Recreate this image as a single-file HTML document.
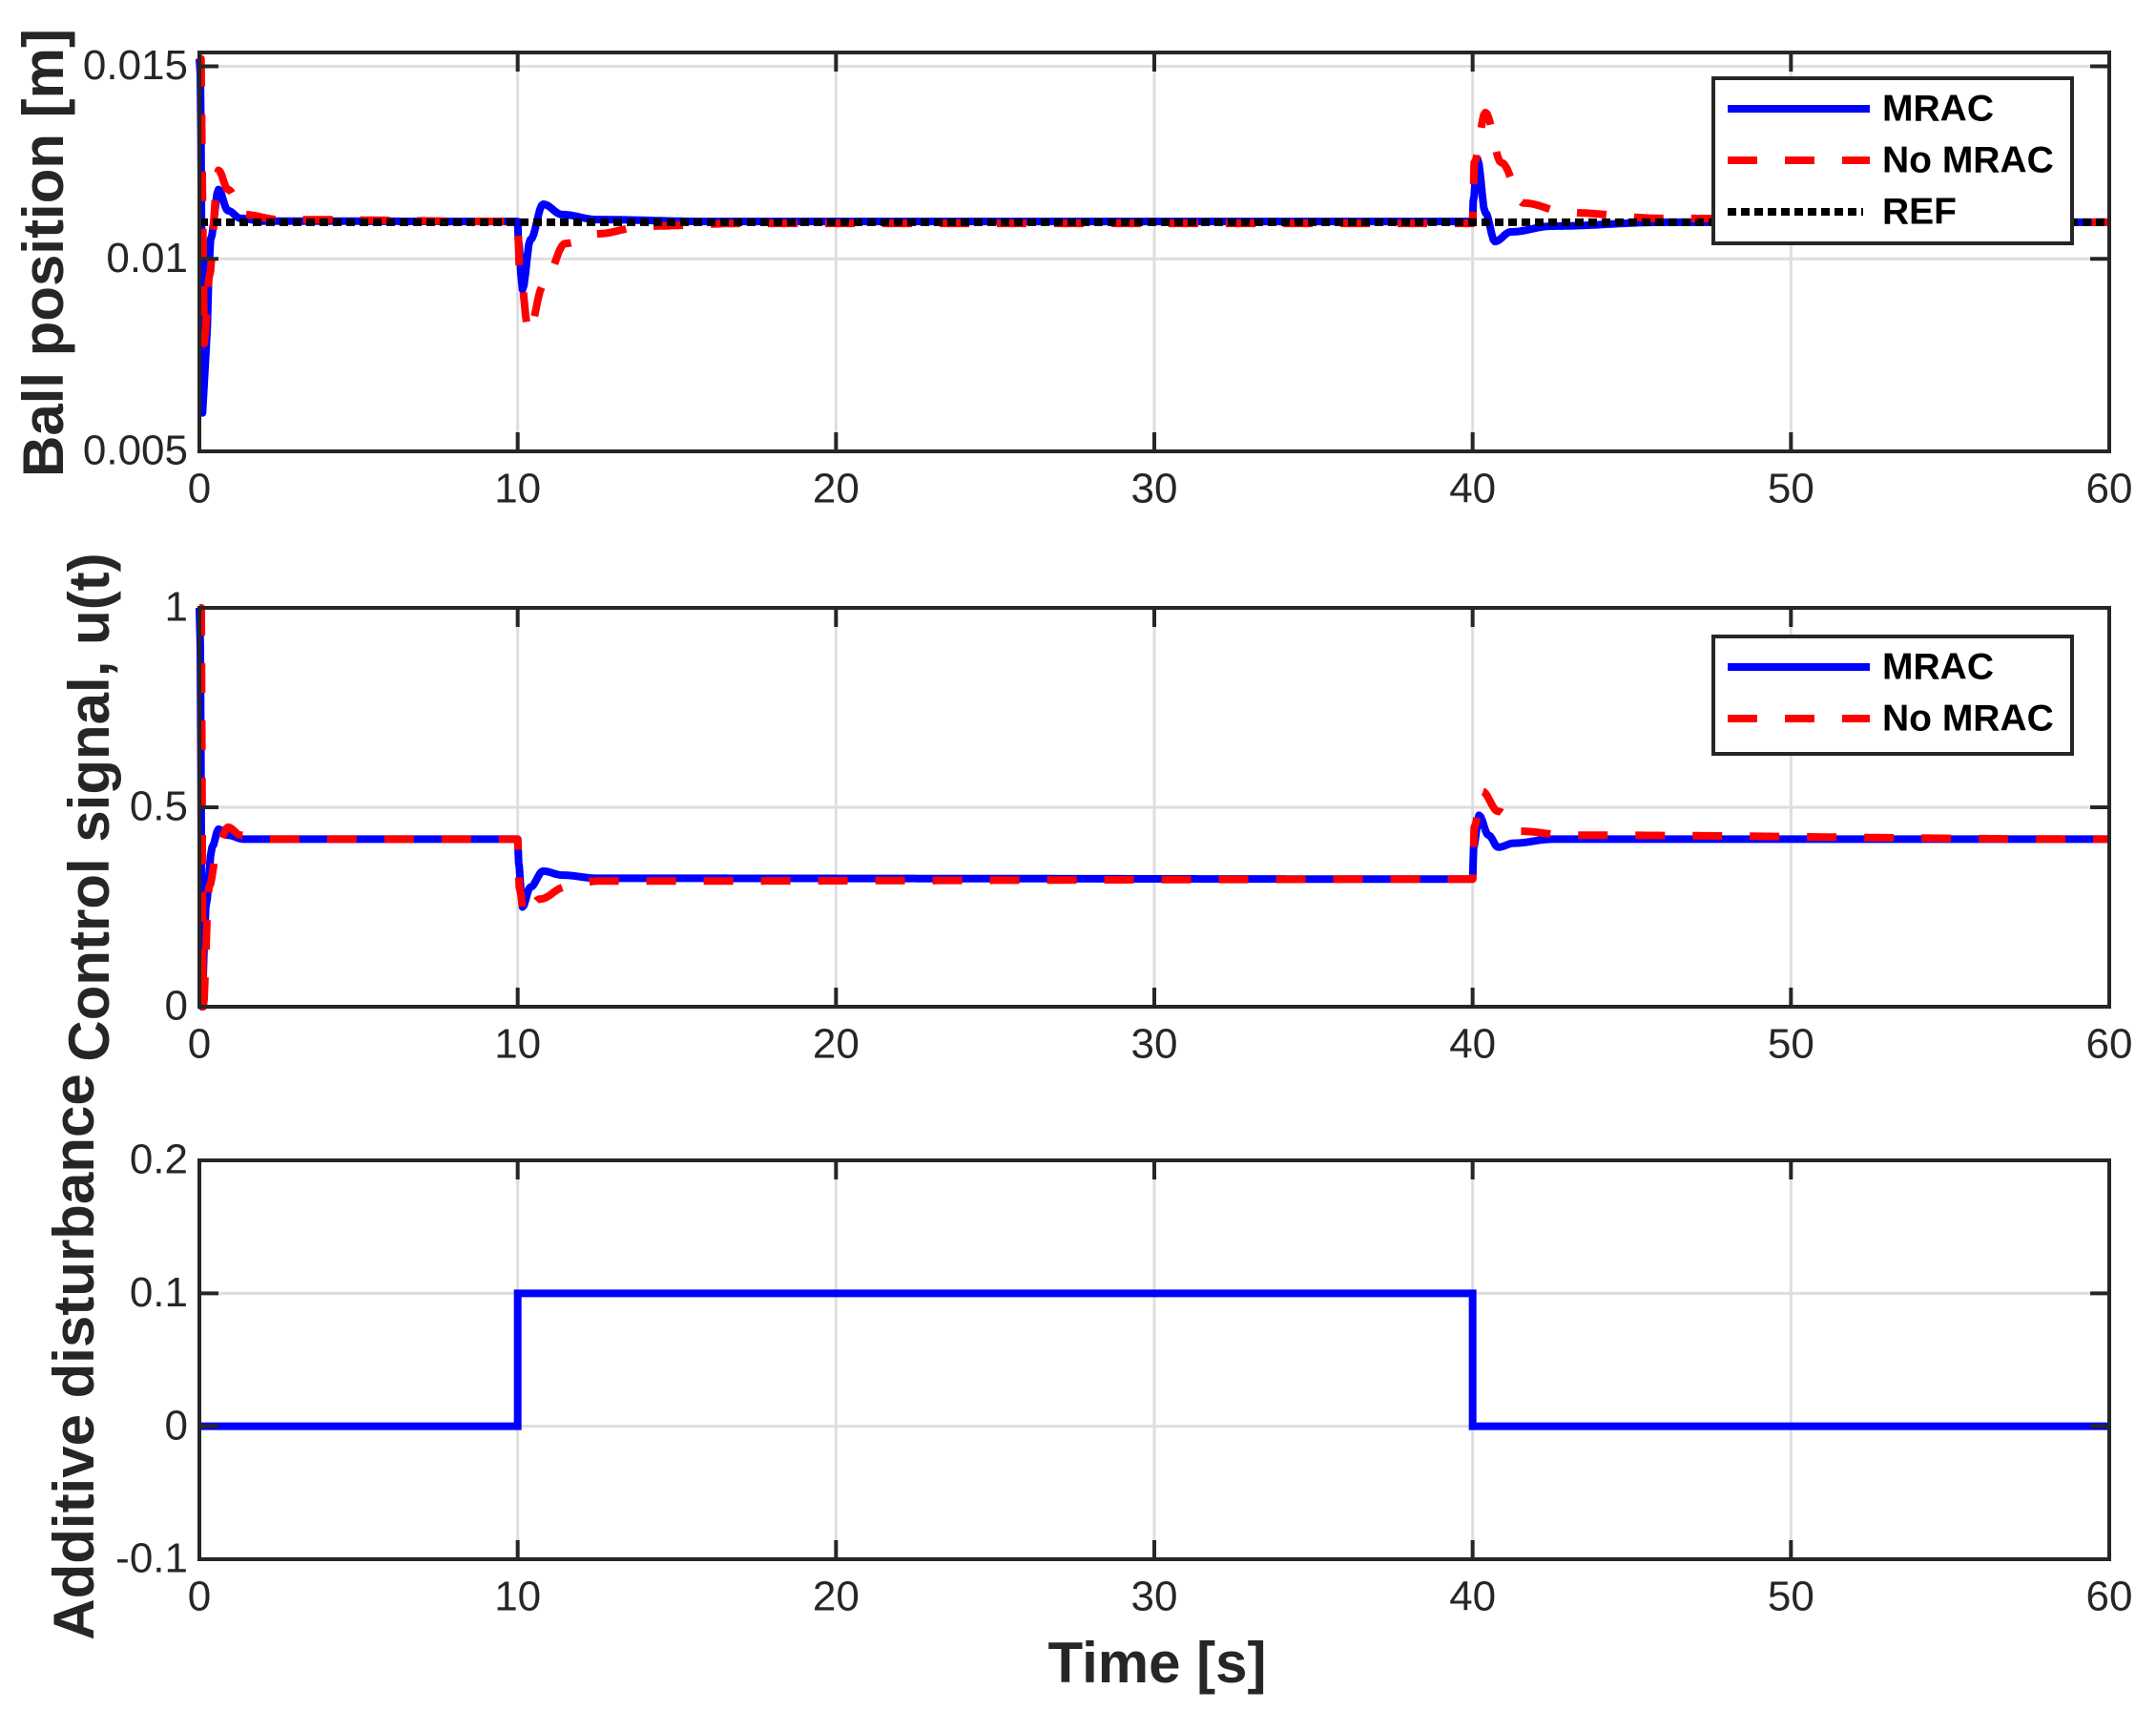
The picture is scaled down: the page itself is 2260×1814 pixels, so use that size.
<!DOCTYPE html>
<html><head><meta charset="utf-8"><style>
html,body{margin:0;padding:0;background:#fff;}
svg{display:block;}
text{font-family:"Liberation Sans",Arial,sans-serif;fill:#262626;}
</style></head><body>
<svg id="s" width="2260" height="1814" viewBox="0 0 2260 1814" xmlns="http://www.w3.org/2000/svg">
<g id="g"></g>
<text x="1213" y="1747" font-size="60" font-weight="bold" text-anchor="middle" dominant-baseline="middle">Time [s]</text>
<text transform="translate(50,265) rotate(-90)" font-size="60" font-weight="bold" text-anchor="middle" dominant-baseline="middle">Ball position [m]</text>
<text transform="translate(98,846) rotate(-90)" font-size="60" font-weight="bold" text-anchor="middle" dominant-baseline="middle">Control signal, u(t)</text>
<text transform="translate(82,1422) rotate(-90)" font-size="60" font-weight="bold" text-anchor="middle" dominant-baseline="middle">Additive disturbance</text>
</svg>
<script>
var NS="http://www.w3.org/2000/svg",G=document.getElementById('g');
function el(t,a,txt){var e=document.createElementNS(NS,t);for(var k in a)e.setAttribute(k,a[k]);if(txt!==undefined)e.textContent=txt;G.appendChild(e);return e;}
var X0=209,X1=2211;function X(t){return X0+(X1-X0)*t/60;}
function axes(top,bot,ymin,ymax,yt){
 function Y(v){return bot-(bot-top)*(v-ymin)/(ymax-ymin);}
 for(var i=1;i<6;i++)el('line',{x1:X(i*10),x2:X(i*10),y1:top,y2:bot,stroke:'#dedede','stroke-width':3});
 yt.forEach(function(v){var y=Y(v);if(y>top+2&&y<bot-2)el('line',{x1:X0,x2:X1,y1:y,y2:y,stroke:'#dedede','stroke-width':3});});
 return Y;}
function frame(top,bot,Y,yt,labs){
 el('rect',{x:X0,y:top,width:X1-X0,height:bot-top,fill:'none',stroke:'#262626','stroke-width':4});
 for(var i=0;i<=6;i++){var x=X(i*10);
  el('line',{x1:x,x2:x,y1:bot,y2:bot-20,stroke:'#262626','stroke-width':4});
  el('line',{x1:x,x2:x,y1:top,y2:top+20,stroke:'#262626','stroke-width':4});
  el('text',{x:x,y:bot+42,'font-size':44,'text-anchor':'middle','dominant-baseline':'middle'},String(i*10));}
 yt.forEach(function(v,j){var y=Y(v);
  el('line',{x1:X0,x2:X0+20,y1:y,y2:y,stroke:'#262626','stroke-width':4});
  el('line',{x1:X1,x2:X1-20,y1:y,y2:y,stroke:'#262626','stroke-width':4});
  el('text',{x:197,y:y+2,'font-size':44,'text-anchor':'end','dominant-baseline':'middle'},labs[j]);});}
function interp(k,t){for(var i=1;i<k.length;i++){if(t<=k[i][0]){var a=k[i-1],b=k[i];var f=(t-a[0])/(b[0]-a[0]);f=(1-Math.cos(Math.PI*f))/2;return a[1]+(b[1]-a[1])*f;}}return k[k.length-1][1];}
function path(k,Y,attrs){var d='';var ts=[];for(var t=0;t<=60;t+=0.05)ts.push(t);k.forEach(function(p){ts.push(p[0]);});ts.sort(function(a,b){return a-b;});
 ts.forEach(function(t,i){d+=(i?'L':'M')+X(t).toFixed(1)+','+Y(interp(k,t)).toFixed(1);});
 attrs.d=d;attrs.fill='none';attrs['stroke-linejoin']='round';el('path',attrs);}
var yt1=[0.005,0.01,0.015],Y1=axes(55,473,0.005,0.01536,yt1);
var R=0.01095;
var b1=[[0,0.0152],[0.03,0.0148],[0.1,0.006],[0.2,0.0075],[0.35,0.0105],[0.6,0.0118],[0.9,0.01125],[1.3,0.01105],[2,0.01098],[10,0.01097],[10.02,0.0105],[10.15,0.0092],[10.4,0.0105],[10.8,0.01142],[11.4,0.01115],[12.5,0.01102],[16,0.01097],[40,0.01097],[40.02,0.0115],[40.15,0.0126],[40.4,0.0112],[40.7,0.01045],[41.2,0.0107],[42.5,0.01085],[46,0.01095],[60,0.01095]];
var r1=[[0,0.0152],[0.05,0.0152],[0.15,0.0078],[0.3,0.0095],[0.6,0.0123],[0.9,0.0118],[1.4,0.01115],[2.5,0.01102],[10,0.01097],[10.05,0.0098],[10.35,0.0081],[10.8,0.0093],[11.5,0.0104],[12.5,0.01065],[14,0.01085],[17,0.01092],[40,0.01092],[40.05,0.0125],[40.4,0.0138],[40.9,0.0125],[41.6,0.01145],[43,0.0112],[46,0.01105],[60,0.01095]];
path(b1,Y1,{stroke:'#0000ff','stroke-width':8});
path(r1,Y1,{stroke:'#ff0000','stroke-width':8,'stroke-dasharray':'31 29'});
el('line',{x1:X0,x2:X1,y1:Y1(R),y2:Y1(R),stroke:'#000','stroke-width':8,'stroke-dasharray':'9 5'});
frame(55,473,Y1,yt1,['0.005','0.01','0.015']);
var yt2=[0,0.5,1],Y2=axes(637,1055,0,1,yt2);
var b2=[[0,1],[0.03,0.9],[0.08,0.0],[0.2,0.25],[0.4,0.4],[0.6,0.445],[0.9,0.43],[1.4,0.42],[10,0.42],[10.03,0.36],[10.15,0.25],[10.4,0.3],[10.8,0.34],[11.4,0.33],[12.5,0.322],[40,0.32],[40.03,0.4],[40.2,0.48],[40.5,0.43],[40.8,0.4],[41.3,0.41],[42.5,0.42],[60,0.42]];
var r2=[[0,1],[0.06,1],[0.12,0.0],[0.3,0.3],[0.6,0.41],[0.9,0.45],[1.3,0.43],[2,0.42],[10,0.42],[10.05,0.3],[10.2,0.23],[10.7,0.27],[11.5,0.3],[12.5,0.315],[40,0.32],[40.05,0.45],[40.3,0.54],[40.8,0.49],[41.5,0.44],[43,0.43],[60,0.42]];
path(b2,Y2,{stroke:'#0000ff','stroke-width':8});
path(r2,Y2,{stroke:'#ff0000','stroke-width':8,'stroke-dasharray':'31 29'});
frame(637,1055,Y2,yt2,['0','0.5','1']);
var yt3=[-0.1,0,0.1,0.2],Y3=axes(1216,1634,-0.1,0.2,yt3);
el('path',{d:'M'+X(0)+','+Y3(0)+'H'+X(10)+'V'+Y3(0.1)+'H'+X(40)+'V'+Y3(0)+'H'+X(60),fill:'none',stroke:'#0000ff','stroke-width':8});
frame(1216,1634,Y3,yt3,['-0.1','0','0.1','0.2']);
function legend(top,bot,items){
 el('rect',{x:1796,y:top,width:376,height:bot-top,fill:'#fff',stroke:'#262626','stroke-width':4});
 items.forEach(function(it,i){var y=top+32+i*54;
  var a={x1:1811,x2:1960,y1:y,y2:y,stroke:it[1],'stroke-width':8};if(it[2])a['stroke-dasharray']=it[2];
  if(it[3]){a.x2=1953;}
  el('line',a);
  el('text',{x:1973,y:y+2,'font-size':39,'font-weight':'bold','dominant-baseline':'middle',style:'fill:#000'},it[0]);});}
legend(82,255,[['MRAC','#0000ff'],['No MRAC','#ff0000','31 29'],['REF','#000','9 5',1]]);
legend(667,790,[['MRAC','#0000ff'],['No MRAC','#ff0000','31 29']]);
</script>
</body></html>
